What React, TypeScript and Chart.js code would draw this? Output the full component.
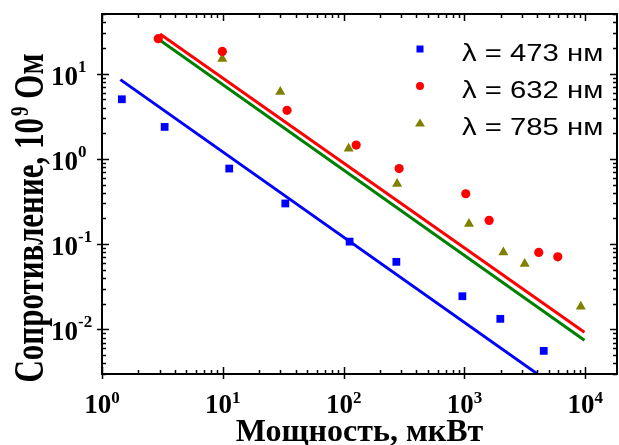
import React, { useEffect, useRef } from "react";
import { Chart, registerables } from "chart.js";

Chart.register(...registerables);

// Measured points: power (µW) vs resistance (10^9 Ohm)
const blueX = [1.46, 3.3, 11.3, 32.9, 112, 273, 961, 1980, 4530];
const blueY = [5.0, 2.37, 0.77, 0.3, 0.107, 0.062, 0.0245, 0.0133, 0.0056];
const redX = [2.92, 9.9, 34, 127, 288, 1025, 1600, 4120, 5920];
const redY = [25.7, 18.2, 3.71, 1.45, 0.77, 0.39, 0.19, 0.08, 0.071];
const oliveX = [9.9, 29.9, 110, 277, 1090, 2100, 3150, 9180];
const oliveY = [14.9, 6.1, 1.32, 0.51, 0.173, 0.08, 0.0587, 0.0185];

// Power-law fit lines (end points)
const fitBlueX = [1.42, 3960];
const fitBlueY = [8.5, 0.00305];
const fitRedX = [3.02, 9840];
const fitRedY = [29.2, 0.00927];
const fitGreenX = [3.02, 9840];
const fitGreenY = [24.6, 0.00747];

const xDecades = [0, 1, 2, 3, 4];
const yDecades = [-2, -1, 0, 1];
const legendLabels = ["λ = 473 нм", "λ = 632 нм", "λ = 785 нм"];
const xTitle = "Мощность, мкВт";
const yTitleParts = ["Сопротивление, 10", "9", " Ом"];

const BLUE = "#0000ff";
const RED = "#ff0000";
const OLIVE = "#808000";
const GREEN = "#008000";

const SERIF = '"Liberation Serif", "Times New Roman", serif';
const SANS = '"Liberation Sans", Arial, sans-serif';

const pts = (xs: number[], ys: number[]) => xs.map((x, i) => ({ x, y: ys[i] }));

const axesPlugin = {
  id: "axesDecor",
  afterDraw(chart: any) {
    const { ctx, chartArea: a } = chart;
    const xs = chart.scales.x;
    const ys = chart.scales.y;
    ctx.save();
    ctx.strokeStyle = "#000";
    ctx.fillStyle = "#000";

    // frame
    ctx.lineWidth = 2;
    ctx.strokeRect(a.left, a.top, a.right - a.left, a.bottom - a.top);

    // ticks: majors cross the bottom/left axes, minors point inward
    ctx.lineWidth = 1.5;
    ctx.beginPath();
    for (let e = -1; e <= 5; e++) {
      for (let k = 1; k <= 9; k++) {
        const v = k * Math.pow(10, e);
        if (v < xs.min || v > xs.max) continue;
        const px = Math.round(xs.getPixelForValue(v)) + 0.5;
        const major = k === 1;
        ctx.moveTo(px, a.bottom + (major ? 5 : 0));
        ctx.lineTo(px, a.bottom - (major ? 7 : 4));
        ctx.moveTo(px, a.top);
        ctx.lineTo(px, a.top + (major ? 7 : 4));
      }
    }
    for (let e = -4; e <= 2; e++) {
      for (let k = 1; k <= 9; k++) {
        const v = k * Math.pow(10, e);
        if (v < ys.min || v > ys.max) continue;
        const py = Math.round(ys.getPixelForValue(v)) + 0.5;
        const major = k === 1;
        ctx.moveTo(a.left - (major ? 5 : 0), py);
        ctx.lineTo(a.left + (major ? 7 : 4), py);
        ctx.moveTo(a.right, py);
        ctx.lineTo(a.right - (major ? 7 : 4), py);
      }
    }
    ctx.stroke();

    // tick labels as powers of ten
    const baseFont = `bold 27px ${SERIF}`;
    const supFont = `bold 17px ${SERIF}`;
    ctx.textAlign = "left";
    ctx.textBaseline = "alphabetic";
    for (const e of xDecades) {
      const px = xs.getPixelForValue(Math.pow(10, e));
      ctx.font = baseFont;
      const wb = ctx.measureText("10").width;
      ctx.font = supFont;
      const ws = ctx.measureText(String(e)).width;
      const left = px - (wb + ws) / 2;
      ctx.font = baseFont;
      ctx.fillText("10", left, 413);
      ctx.font = supFont;
      ctx.fillText(String(e), left + wb, 403);
    }
    for (const e of yDecades) {
      const py = ys.getPixelForValue(Math.pow(10, e));
      ctx.font = baseFont;
      const wb = ctx.measureText("10").width;
      const left = 78 - wb;
      ctx.fillText("10", left, py + 11);
      ctx.font = supFont;
      ctx.fillText(String(e), 78, py - 2);
    }

    // x title
    ctx.font = `bold 32px ${SERIF}`;
    ctx.textAlign = "center";
    ctx.fillText(xTitle, (a.left + a.right) / 2, 441);

    // y title (rotated, with superscript)
    ctx.save();
    ctx.translate(43, 218);
    ctx.rotate(-Math.PI / 2);
    ctx.scale(1, 1.33);
    const tFont = `bold 31px ${SERIF}`;
    const tSup = `bold 19px ${SERIF}`;
    ctx.font = tFont;
    const w0 = ctx.measureText(yTitleParts[0]).width;
    const w2 = ctx.measureText(yTitleParts[2]).width;
    ctx.font = tSup;
    const w1 = ctx.measureText(yTitleParts[1]).width + 2;
    let tx = -(w0 + w1 + w2) / 2;
    ctx.textAlign = "left";
    ctx.font = tFont;
    ctx.fillText(yTitleParts[0], tx, 0);
    tx += w0;
    ctx.font = tSup;
    ctx.fillText(yTitleParts[1], tx + 2, -11);
    tx += w1;
    ctx.font = tFont;
    ctx.fillText(yTitleParts[2], tx, 0);
    ctx.restore();

    // legend
    const colors = [BLUE, RED, OLIVE];
    const rowY = [49, 86, 123];
    legendLabels.forEach((label, i) => {
      const cy = rowY[i];
      const cx = 420;
      ctx.fillStyle = colors[i];
      ctx.beginPath();
      if (i === 0) {
        ctx.rect(cx - 3.5, cy - 3.5, 7, 7);
      } else if (i === 1) {
        ctx.arc(cx, cy, 4, 0, Math.PI * 2);
      } else {
        ctx.moveTo(cx, cy - 4.5);
        ctx.lineTo(cx + 5, cy + 3.5);
        ctx.lineTo(cx - 5, cy + 3.5);
        ctx.closePath();
      }
      ctx.fill();
      ctx.save();
      ctx.fillStyle = "#000";
      ctx.font = `24px ${SANS}`;
      ctx.textAlign = "left";
      ctx.translate(462, cy + 12);
      ctx.scale(1.22, 1);
      ctx.fillText(label, 0, 0);
      ctx.restore();
    });
    ctx.restore();
  },
};

export default function App() {
  const canvasRef = useRef<HTMLCanvasElement | null>(null);

  useEffect(() => {
    const canvas = canvasRef.current;
    if (!canvas) return;
    const chart = new Chart(canvas, {
      type: "scatter",
      data: {
        datasets: [
          {
            label: "473",
            data: pts(blueX, blueY),
            pointStyle: "rect",
            pointRadius: 5.5,
            backgroundColor: BLUE,
            borderWidth: 0,
          },
          {
            label: "632",
            data: pts(redX, redY),
            pointStyle: "circle",
            pointRadius: 4.6,
            backgroundColor: RED,
            borderWidth: 0,
          },
          {
            label: "785",
            data: pts(oliveX, oliveY),
            pointStyle: "triangle",
            pointRadius: 5.8,
            backgroundColor: OLIVE,
            borderWidth: 0,
          },
          {
            label: "fit 473",
            data: pts(fitBlueX, fitBlueY),
            showLine: true,
            borderColor: BLUE,
            borderWidth: 3,
            pointRadius: 0,
          },
          {
            label: "fit 632",
            data: pts(fitRedX, fitRedY),
            showLine: true,
            borderColor: RED,
            borderWidth: 3,
            pointRadius: 0,
          },
          {
            label: "fit 785",
            data: pts(fitGreenX, fitGreenY),
            showLine: true,
            borderColor: GREEN,
            borderWidth: 3,
            pointRadius: 0,
          },
        ],
      },
      options: {
        animation: false,
        responsive: false,
        events: [],
        layout: {
          autoPadding: false,
          padding: { left: 102, top: 14, right: 2, bottom: 71 },
        },
        plugins: {
          legend: { display: false },
          tooltip: { enabled: false },
        },
        scales: {
          x: { type: "logarithmic", min: 1, max: 18300, display: false },
          y: { type: "logarithmic", min: 0.003, max: 50, display: false },
        },
      },
      plugins: [axesPlugin],
    });
    return () => chart.destroy();
  }, []);

  return (
    <div style={{ position: "absolute", left: 0, top: 0, width: 619, height: 445, background: "#fff" }}>
      <canvas ref={canvasRef} width={619} height={445} style={{ display: "block" }} />
    </div>
  );
}
